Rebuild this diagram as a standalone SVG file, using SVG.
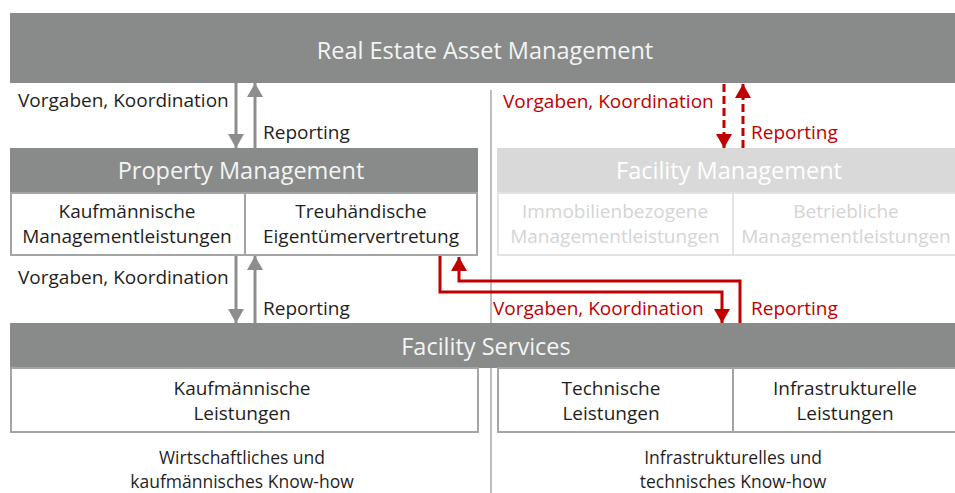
<svg xmlns="http://www.w3.org/2000/svg" width="955" height="493" viewBox="0 0 955 493">
  <style>
    text { font-family: "Open Sans", "Noto Sans", "Liberation Sans", sans-serif; }
    .bar { fill: #888b8a; }
    .bar-faded { fill: #d9d9d9; }
    .bar-title { fill: #f4f4f4; font-size: 23.5px; text-anchor: middle; }
    .box { fill: #ffffff; stroke: #a3a5a4; stroke-width: 2; }
    .box-faded { fill: #ffffff; stroke: #e3e3e3; stroke-width: 2; }
    .label { fill: #1f1f1f; font-size: 19px; text-anchor: middle; }
    .note { fill: #1f1f1f; font-size: 17.5px; text-anchor: middle; }
    .label-faded { fill: #d4d4d4; font-size: 19px; text-anchor: middle; }
    .flow { fill: #1f1f1f; font-size: 19px; }
    .flow-red { fill: #c00000; font-size: 19px; }
    .arrow-grey { stroke: #8c8e8d; stroke-width: 3; fill: none; }
    .arrow-red { stroke: #c00000; stroke-width: 3; fill: none; }
    .dashed { stroke-dasharray: 8 4; }
  </style>
  <defs>
    <marker id="head-grey" markerUnits="userSpaceOnUse" markerWidth="14" markerHeight="16" refX="14" refY="8" orient="auto">
      <path d="M0,0 L14,8 L0,16 z" fill="#8c8e8d"/>
    </marker>
    <marker id="head-red" markerUnits="userSpaceOnUse" markerWidth="14" markerHeight="16" refX="14" refY="8" orient="auto">
      <path d="M0,0 L14,8 L0,16 z" fill="#c00000"/>
    </marker>
  </defs>

  <!-- separator between commercial and technical side -->
  <line x1="491" y1="90" x2="491" y2="493" stroke="#bfbfbf" stroke-width="2"/>

  <g id="ream">
    <rect class="bar" x="10" y="13" width="945" height="70"/>
    <text class="bar-title" x="485" y="59">Real Estate Asset Management</text>
  </g>

  <g id="property-management">
    <rect class="bar" x="10" y="148" width="468" height="45"/>
    <text class="bar-title" x="241" y="179">Property Management</text>
    <rect class="box" x="11" y="193" width="234" height="62"/>
    <rect class="box" x="245" y="193" width="232" height="62"/>
    <text class="label" x="127" y="218">Kaufmännische</text>
    <text class="label" x="127" y="243">Managementleistungen</text>
    <text class="label" x="361" y="218">Treuhändische</text>
    <text class="label" x="361" y="243">Eigentümervertretung</text>
  </g>

  <g id="facility-management">
    <rect class="bar-faded" x="497" y="148" width="458" height="45"/>
    <text class="bar-title" x="729" y="179" style="fill:#ffffff">Facility Management</text>
    <rect class="box-faded" x="498" y="193" width="235" height="62"/>
    <rect class="box-faded" x="733" y="193" width="225" height="62"/>
    <text class="label-faded" x="615" y="218">Immobilienbezogene</text>
    <text class="label-faded" x="615" y="243">Managementleistungen</text>
    <text class="label-faded" x="846" y="218">Betriebliche</text>
    <text class="label-faded" x="846" y="243">Managementleistungen</text>
  </g>

  <g id="facility-services">
    <rect class="bar" x="10" y="323" width="945" height="45"/>
    <text class="bar-title" x="486" y="355">Facility Services</text>
    <rect class="box" x="11" y="368" width="467" height="64"/>
    <rect class="box" x="498" y="368" width="235" height="64"/>
    <rect class="box" x="733" y="368" width="225" height="64"/>
    <text class="label" x="242" y="395">Kaufmännische</text>
    <text class="label" x="242" y="420">Leistungen</text>
    <text class="label" x="611" y="395">Technische</text>
    <text class="label" x="611" y="420">Leistungen</text>
    <text class="label" x="845" y="395">Infrastrukturelle</text>
    <text class="label" x="845" y="420">Leistungen</text>
  </g>

  <g id="know-how">
    <text class="note" x="242" y="464">Wirtschaftliches und</text>
    <text class="note" x="242" y="488">kaufmännisches Know-how</text>
    <text class="note" x="733" y="464">Infrastrukturelles und</text>
    <text class="note" x="733" y="488">technisches Know-how</text>
  </g>

  <g id="connectors">
    <!-- REAM <-> Property Management -->
    <line class="arrow-grey" x1="236" y1="83" x2="236" y2="148" marker-end="url(#head-grey)"/>
    <line class="arrow-grey" x1="255" y1="148" x2="255" y2="83" marker-end="url(#head-grey)"/>
    <text class="flow" x="18" y="107">Vorgaben, Koordination</text>
    <text class="flow" x="263" y="139">Reporting</text>

    <!-- Property Management <-> Facility Services -->
    <line class="arrow-grey" x1="236" y1="256" x2="236" y2="323" marker-end="url(#head-grey)"/>
    <line class="arrow-grey" x1="255" y1="323" x2="255" y2="256" marker-end="url(#head-grey)"/>
    <text class="flow" x="18" y="284">Vorgaben, Koordination</text>
    <text class="flow" x="263" y="315">Reporting</text>

    <!-- REAM <-> Facility Management (dashed) -->
    <line class="arrow-red dashed" x1="724" y1="84" x2="724" y2="148" marker-end="url(#head-red)"/>
    <line class="arrow-red dashed" x1="743" y1="148" x2="743" y2="84" marker-end="url(#head-red)"/>
    <text class="flow-red" x="503" y="108">Vorgaben, Koordination</text>
    <text class="flow-red" x="751" y="139">Reporting</text>

    <!-- Property Management <-> Facility Services (technical side) -->
    <path class="arrow-red" d="M440,256 V292 H722 V323" marker-end="url(#head-red)"/>
    <path class="arrow-red" d="M740,323 V281 H459 V257" marker-end="url(#head-red)"/>
    <text class="flow-red" x="493" y="315">Vorgaben, Koordination</text>
    <text class="flow-red" x="751" y="315">Reporting</text>
  </g>
</svg>
